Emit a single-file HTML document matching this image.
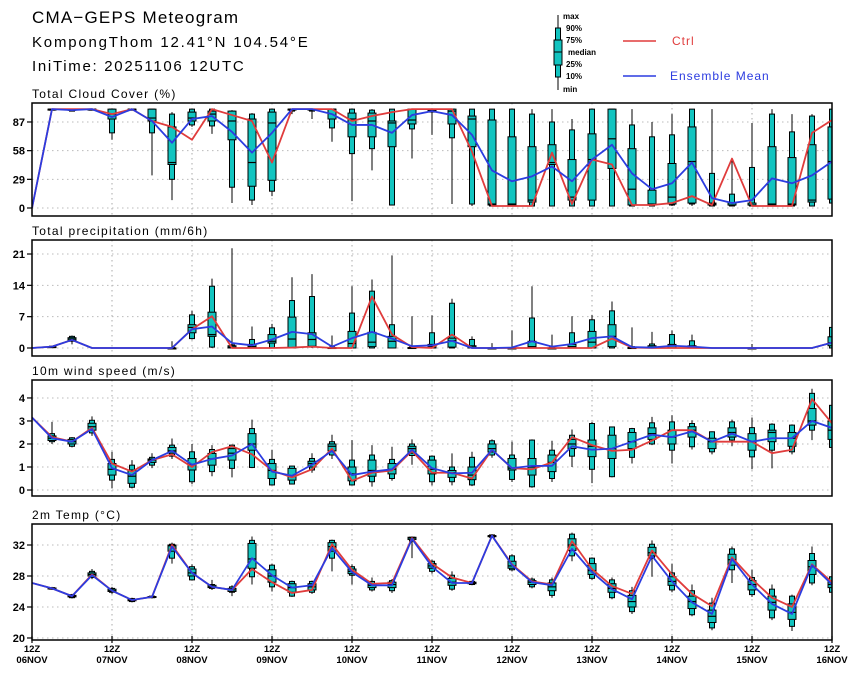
<!DOCTYPE html>
<html><head><meta charset="utf-8"><style>
body{margin:0;background:#fff;}
svg text{font-family:"Liberation Sans",sans-serif;}
</style></head><body>
<svg id="chart" width="860" height="678" viewBox="0 0 860 678" xmlns="http://www.w3.org/2000/svg">
<rect width="860" height="678" fill="#fff"/>
<g>
<text x="32" y="23" font-size="17" letter-spacing="1.2">CMA−GEPS Meteogram</text>
<text x="32" y="47" font-size="15" letter-spacing="1.8">KompongThom 12.41°N 104.54°E</text>
<text x="32" y="71" font-size="15" letter-spacing="1.7">IniTime: 20251106 12UTC</text>
</g>
<g font-size="8" font-weight="bold">
<line x1="558" y1="15" x2="558" y2="90" stroke="#000"/>
<rect x="555.5" y="28" width="5" height="49" fill="#12c4c0" stroke="#000"/>
<rect x="554" y="40" width="8" height="25" fill="#12c4c0" stroke="#000"/>
<line x1="554" y1="52" x2="562" y2="52" stroke="#000"/>
<text x="563" y="19">max</text><text x="566" y="31">90%</text><text x="566" y="43">75%</text>
<text x="568" y="55">median</text><text x="566" y="67">25%</text><text x="566" y="79">10%</text><text x="563" y="92">min</text>
<line x1="623" y1="41" x2="656" y2="41" stroke="#e03c3c" stroke-width="1.5"/>
<text x="672" y="45" font-size="12" font-weight="normal" letter-spacing="1" fill="#e03c3c">Ctrl</text>
<line x1="623" y1="76" x2="656" y2="76" stroke="#2c3ce0" stroke-width="1.5"/>
<text x="670" y="80" font-size="12" font-weight="normal" letter-spacing="1" fill="#2c3ce0">Ensemble Mean</text>
</g>
</svg>
<script>
const dayLabels=["06NOV","07NOV","08NOV","09NOV","10NOV","11NOV","12NOV","13NOV","14NOV","15NOV","16NOV"];
const cloudTicks=[0,29,58,87];
const precipTicks=[0,7,14,21];
const windTicks=[0,1,2,3,4];
const tempTicks=[20,24,28,32];
// box stats rows: [min,p10,p25,med,p75,p90,max], index 0 has no box
const cloudBox=[null,[99,99,100,100,100,100,100],[98,98,99,99,100,100,100],[99,99,100,100,100,100,100],[69,76,90,95,100,100,100],[99,99,100,100,100,100,100],[33,76,88,91,100,100,100],[8,29,44,46,82,95,97],[82,84,88,91,97,100,100],[75,83,88,95,98,100,100],[5,21,69,88,98,98,99],[3,8,22,46,90,95,96],[12,17,28,86,97,100,100],[95,98,100,100,100,100,100],[90,98,100,100,100,100,100],[67,81,90,100,100,100,100],[7,55,72,90,96,100,100],[38,60,72,88,96,99,100],[3,3,62,86,88,100,100],[50,80,85,89,100,100,100],[74,97,98,99,100,100,100],[4,71,85,98,100,100,100],[2,4,62,90,93,100,100],[2,2,3,4,89,100,100],[2,2,3,4,72,100,100],[2,2,6,8,62,95,100],[2,2,44,46,64,87,100],[2,2,8,11,49,79,90],[2,2,8,49,75,100,100],[2,2,40,70,100,100,100],[2,2,3,19,60,84,100],[2,2,3,4,18,72,87],[2,3,4,11,45,74,95],[2,4,5,47,82,100,100],[2,2,3,4,5,35,100],[2,2,3,3,5,14,50],[2,2,3,3,5,41,86],[2,2,3,4,62,95,100],[2,2,3,4,51,77,95],[2,2,6,8,64,93,95],[2,5,9,47,82,100,100]];
const cloudCtrl=[0,100,100,100,95,100,88,82,69,100,94,88,46,100,100,100,88,93,97,100,100,100,57,2,2,2,56,4,49,44,3,3,5,12,3,50,2,2,2,76,89];
const cloudMean=[0,100,99,100,92,100,88,66,90,93,77,56,76,100,100,95,84,84,76,94,98,94,74,38,27,32,42,27,49,64,35,19,25,46,10,5,8,30,25,33,47];
const precipBox=[null,[0,0.1,0.2,0.3,0.3,0.4,0.5],[0.8,1.5,1.7,2,2.3,2.6,2.8],[0,0,0,0,0,0,0],[0,0,0,0,0,0,0],[0,0,0,0,0,0,0],[0,0,0,0,0,0,0],[0,0,0,0,0,0.1,1.5],[1.9,2.1,3.4,4.6,5.2,7.4,8.3],[0,0.2,2.6,3,8,13.8,15.5],[0,0,0,0.2,0.5,0.7,22.3],[0,0,0,0.3,0.8,1.9,4.8],[0,0,1.1,1.5,3,4.5,5.4],[0,0,0,2,6.9,10.6,15.8],[0,0.2,0.4,1.9,3.4,11.5,16.5],[0,0,0,0,0.1,0.2,2.8],[0,0,0,1,3.7,7.8,13.8],[0,0,0.3,1.3,3.5,12.7,15.3],[0,0,0,1.5,2.6,5.2,20.7],[0,0,0,0,0.1,0.2,7.1],[0,0,0,0.3,0.8,3.4,7.3],[0,0,0.2,1.6,2.2,10,11],[0,0,0,0.2,0.5,1.9,2.6],[0,0,0,0,0,0,1.1],[0,0,0,0,0,0.1,3.9],[0,0,0,0.3,1.5,6.7,13.8],[0,0,0,0,0,0.2,3],[0,0,0,0.3,0.8,3.4,7.1],[0,0,0,1.3,3.7,6.3,7.4],[0,0,0.3,2.6,5.2,8.3,10.4],[0,0,0,0,0.1,0.3,4.6],[0,0,0,0.2,0.5,0.9,3.6],[0,0,0,0.5,0.8,3,3.9],[0,0,0,0.3,0.5,1.6,3],[0,0,0,0,0,0,0],[0,0,0,0,0,0,0],[0,0,0,0,0,0,0.9],[0,0,0,0,0,0,0],[0,0,0,0,0,0,0],[0,0,0,0,0,0,0],[0,0,0.5,1.2,2.5,4.6,4.8]];
const precipCtrl=[0,0.3,1.8,0,0,0,0,0,4.2,7.1,0,0,0,0.1,0.3,0,0,11.5,3,0.2,0,3,0,0,0,0,0,0,0,2.1,0.1,0,0,0,0,0,0,0,0,0,1.2];
const precipMean=[0,0.3,1.8,0,0,0,0,0,4.2,4.8,1.1,0.6,1.9,3.6,3.1,0.3,2.2,3.6,2.1,0.4,0.6,1.6,0,0,0.1,1.5,0.3,0.9,2.2,2.6,0.2,0.1,0.5,0.3,0,0,0,0,0,0,1.2];
const windBox=[null,[2.0,2.1,2.15,2.25,2.35,2.45,2.96],[1.85,1.9,2.0,2.1,2.2,2.27,2.3],[2.35,2.48,2.6,2.75,2.9,3.03,3.2],[0.07,0.43,0.65,0.9,1.15,1.33,1.66],[0.07,0.12,0.29,0.6,0.87,1.08,1.3],[0.95,1.08,1.2,1.3,1.35,1.42,1.6],[1.35,1.47,1.6,1.7,1.85,1.95,2.24],[0.25,0.36,0.87,1.1,1.37,1.66,2.0],[0.6,0.8,1.08,1.35,1.59,1.76,1.95],[0.55,0.94,1.3,1.6,1.8,1.95,1.97],[0.95,0.98,1.73,2.0,2.45,2.67,3.06],[0.2,0.22,0.5,0.85,1.15,1.33,1.75],[0.25,0.26,0.43,0.6,0.94,1.04,1.05],[0.75,0.87,1.0,1.15,1.25,1.37,1.6],[1.35,1.52,1.7,1.9,2.0,2.1,2.4],[0.2,0.22,0.4,0.7,1.0,1.3,2.17],[0.15,0.36,0.6,0.85,1.3,1.52,1.95],[0.4,0.5,0.7,0.9,1.15,1.33,1.88],[1.1,1.5,1.6,1.8,1.9,2.0,2.2],[0.2,0.36,0.7,0.9,1.3,1.47,1.5],[0.2,0.36,0.55,0.75,0.85,1.0,1.59],[0.17,0.22,0.45,0.65,1.0,1.42,1.66],[1.4,1.52,1.65,1.8,2.0,2.14,2.2],[0.35,0.46,0.87,0.95,1.37,1.52,2.1],[0.1,0.14,0.65,1.0,1.37,2.17,2.2],[0.35,0.5,0.8,1.2,1.52,1.73,2.14],[1.0,1.47,1.8,2.0,2.2,2.38,2.63],[0.3,0.9,1.45,1.9,2.17,2.89,2.96],[0.55,0.58,1.37,1.8,2.38,2.74,2.76],[1.15,1.42,1.8,2.1,2.5,2.67,2.7],[1.95,2.0,2.2,2.45,2.7,2.92,3.18],[1.15,1.73,2.0,2.3,2.6,2.96,3.25],[1.76,1.88,2.3,2.6,2.75,2.89,3.03],[1.55,1.66,1.8,2.1,2.25,2.53,2.55],[1.9,2.17,2.3,2.5,2.7,2.96,3.06],[0.9,1.44,1.73,2.1,2.45,2.71,3.15],[0.94,1.73,2.1,2.5,2.6,2.86,2.9],[1.55,1.66,1.9,2.25,2.5,2.82,2.85],[2.17,2.6,2.82,3.0,3.54,4.2,4.4],[1.7,1.85,2.2,2.6,3.0,3.68,3.9]];
const windCtrl=[3.15,2.3,2.1,2.7,1.15,0.8,1.3,1.55,1.0,1.65,1.9,1.55,0.85,0.55,0.9,1.8,0.4,0.75,0.85,1.7,0.75,0.75,0.5,1.75,0.95,0.9,1.2,2.3,1.95,1.7,1.75,2.15,2.6,2.6,2.1,2.1,2.1,1.6,1.75,3.95,2.9];
const windMean=[3.15,2.25,2.1,2.65,0.95,0.65,1.3,1.7,1.1,1.35,1.5,2.0,0.8,0.62,1.1,1.7,0.65,0.8,0.9,1.75,0.95,0.72,0.75,1.75,0.95,1.05,1.05,1.9,1.75,1.8,2.1,2.4,2.3,2.55,2.1,2.45,2.1,2.25,2.25,3.0,2.7];
const tempBox=[null,[26.2,26.3,26.35,26.4,26.45,26.5,26.6],[25.1,25.2,25.3,25.4,25.5,25.6,25.7],[27.6,27.8,28.0,28.2,28.4,28.6,28.9],[25.7,25.9,26.0,26.1,26.3,26.4,26.6],[24.6,24.7,24.8,24.9,25.0,25.1,25.2],[25.1,25.2,25.25,25.3,25.35,25.4,25.5],[29.6,30.3,31.2,31.9,32.0,32.1,32.3],[27.4,27.5,28.0,28.4,28.9,29.2,29.5],[26.2,26.4,26.5,26.6,26.8,26.9,27.5],[25.4,25.9,26.0,26.2,26.4,26.6,26.8],[26.9,27.9,29.0,30.2,32.2,32.6,33.1],[26.0,26.6,27.2,28.0,28.8,29.4,29.6],[25.3,25.4,25.9,26.5,27.0,27.3,27.4],[25.7,25.9,26.2,26.6,27.0,27.3,27.4],[28.6,30.3,31.2,31.8,32.3,32.6,32.7],[26.9,28.1,28.3,28.6,28.9,29.2,29.5],[26.0,26.2,26.5,26.8,27.0,27.3,27.8],[25.8,26.1,26.5,26.9,27.2,27.4,27.6],[30.3,32.5,32.7,32.9,33.0,33.0,33.1],[28.3,28.6,29.0,29.3,29.6,29.9,30.1],[26.1,26.3,26.8,27.2,27.7,28.1,28.6],[26.8,26.9,27.0,27.1,27.2,27.3,27.4],[32.9,33.0,33.1,33.2,33.2,33.3,33.4],[28.6,28.8,29.0,29.3,29.9,30.6,30.8],[26.4,26.6,26.9,27.2,27.4,27.6,27.8],[25.2,25.5,26.1,26.6,27.1,27.5,27.8],[29.9,30.6,31.3,32.0,32.8,33.4,33.6],[27.5,27.7,28.2,28.7,29.6,30.3,30.4],[25.0,25.2,25.9,26.4,27.0,27.5,27.8],[23.1,23.4,24.0,24.7,25.5,26.1,26.6],[27.9,30.3,30.6,31.0,31.7,32.1,32.6],[25.9,26.2,26.8,27.3,27.9,28.4,29.6],[22.8,23.0,23.8,24.7,25.4,26.1,26.9],[21.0,21.3,22.0,22.8,23.6,24.5,25.2],[27.1,28.8,29.4,30.1,30.8,31.5,31.8],[25.3,25.6,26.2,26.9,27.4,27.8,28.8],[22.3,22.6,23.6,24.6,25.4,26.3,26.9],[20.9,21.5,22.4,23.3,24.4,25.4,25.6],[26.8,27.1,28.2,29.2,30.0,30.9,31.8],[25.6,25.9,26.5,26.9,27.4,27.9,28.2]];
const tempCtrl=[27.1,26.4,25.4,28.2,26.1,24.9,25.3,32.0,28.4,26.6,26.2,28.9,27.2,25.8,26.2,32.1,28.8,27.0,27.1,32.9,29.6,27.8,27.1,33.2,29.5,27.3,26.9,32.5,28.9,26.7,25.7,31.3,28.2,25.7,24.1,30.4,27.6,25.2,24.0,29.5,27.2];
const tempMean=[27.1,26.4,25.4,28.1,26.1,24.9,25.3,31.8,28.4,26.6,26.2,30.3,28.1,26.5,26.8,31.6,28.5,26.8,26.8,32.8,29.2,27.1,27.1,33.2,29.4,27.2,26.8,31.5,28.5,26.3,25.0,30.6,27.3,24.6,23.1,30.2,26.9,24.4,23.1,29.4,26.9];

const NS="http://www.w3.org/2000/svg";
const svg=document.getElementById('chart');
const X0=32,X1=832,NSTEP=40;
function xs(i){return X0+(X1-X0)*i/NSTEP;}
function mk(tag,attrs,parent){const e=document.createElementNS(NS,tag);for(const k in attrs)e.setAttribute(k,attrs[k]);parent.appendChild(e);return e;}
const panels=[
 {key:'cloud',title:'Total Cloud Cover (%)',top:103,bottom:216,vmin:-8.1,vmax:106.2,ticks:cloudTicks,box:cloudBox,ctrl:cloudCtrl,mean:cloudMean},
 {key:'precip',title:'Total precipitation (mm/6h)',top:240,bottom:356,vmin:-1.79,vmax:24.13,ticks:precipTicks,box:precipBox,ctrl:precipCtrl,mean:precipMean},
 {key:'wind',title:'10m wind speed (m/s)',top:380,bottom:496,vmin:-0.26,vmax:4.78,ticks:windTicks,box:windBox,ctrl:windCtrl,mean:windMean},
 {key:'temp',title:'2m Temp (°C)',top:524,bottom:640,vmin:19.74,vmax:34.71,ticks:tempTicks,box:tempBox,ctrl:tempCtrl,mean:tempMean}
];
panels.forEach((p,pi)=>{
 const ys=v=>p.bottom-(v-p.vmin)/(p.vmax-p.vmin)*(p.bottom-p.top);
 const g=mk('g',{},svg);
 
 
 const t=mk('text',{x:32,y:p.top-5,'font-size':12,'letter-spacing':1.3},g);
 
 
 t.textContent=p.title;
 const cp=mk('clipPath',{id:'clip'+pi},g);
 mk('rect',{x:X0,y:p.top,width:X1-X0,height:p.bottom-p.top},cp);
 for(let d=1;d<10;d++){
  const gl=mk('line',{x1:xs(d*4),x2:xs(d*4),y1:p.top,y2:p.bottom,stroke:'#aaa','stroke-dasharray':'1.5,3.5','stroke-width':1},g);
  
  
 }
 p.ticks.forEach(v=>{
  const y=ys(v);
  const gl=mk('line',{x1:X0,x2:X1,y1:y,y2:y,stroke:'#bbb','stroke-dasharray':'1.5,3.5'},g);
  
  
  const tk=mk('line',{x1:X0-5,x2:X0,y1:y,y2:y,stroke:'#000','stroke-width':1.2},g);
  
  
  const tl=mk('text',{x:X0-7,y:y+4,'font-size':11,'font-weight':'bold','text-anchor':'end'},g);
  
  
  tl.textContent=v;
 });
 const marks=mk('g',{'clip-path':'url(#clip'+pi+')'},g);
 
 
 p.box.forEach((b,i)=>{
  if(!b||b[6]<=0)return;
  const x=xs(i);
  const bg=mk('g',{},marks);
  
  
  mk('line',{x1:x,x2:x,y1:ys(b[0]),y2:ys(b[6]),stroke:'#000','stroke-width':1},bg);
  mk('rect',{x:x-2.5,y:ys(b[5]),width:5,height:Math.max(ys(b[1])-ys(b[5]),1),fill:'#12c4c0',stroke:'#000','stroke-width':1},bg);
  mk('rect',{x:x-4,y:ys(b[4]),width:8,height:Math.max(ys(b[2])-ys(b[4]),1),fill:'#12c4c0',stroke:'#000','stroke-width':1},bg);
  mk('line',{x1:x-4,x2:x+4,y1:ys(b[3]),y2:ys(b[3]),stroke:'#000','stroke-width':1.2},bg);
 });
 const mkLine=(arr,color,name)=>{
  const pl=mk('polyline',{points:arr.map((v,i)=>xs(i)+','+ys(v)).join(' '),fill:'none',stroke:color,'stroke-width':1.8,'stroke-linejoin':'round'},marks);
  
  
 };
 mkLine(p.ctrl,'#e03c3c',p.key+'-ctrl-line');
 mkLine(p.mean,'#2c3ce0',p.key+'-mean-line');
 const fr=mk('rect',{x:X0,y:p.top,width:X1-X0,height:p.bottom-p.top,fill:'none',stroke:'#000','stroke-width':1.5},g);
 
 
 if(pi===3){
  dayLabels.forEach((lab,d)=>{
   const x=xs(d*4);
   const tk=mk('line',{x1:x,x2:x,y1:p.bottom-4,y2:p.bottom+3,stroke:'#000','stroke-width':1.2},g);
   
   
   const t1=mk('text',{x:x,y:652,'font-size':9.5,'font-weight':'bold','text-anchor':'middle'},g);
   
   
   t1.textContent='12Z';
   const t2=mk('text',{x:x,y:663,'font-size':9.5,'font-weight':'bold','text-anchor':'middle'},g);
   
   
   t2.textContent=lab;
  });
 }
});
</script>
</body></html>
